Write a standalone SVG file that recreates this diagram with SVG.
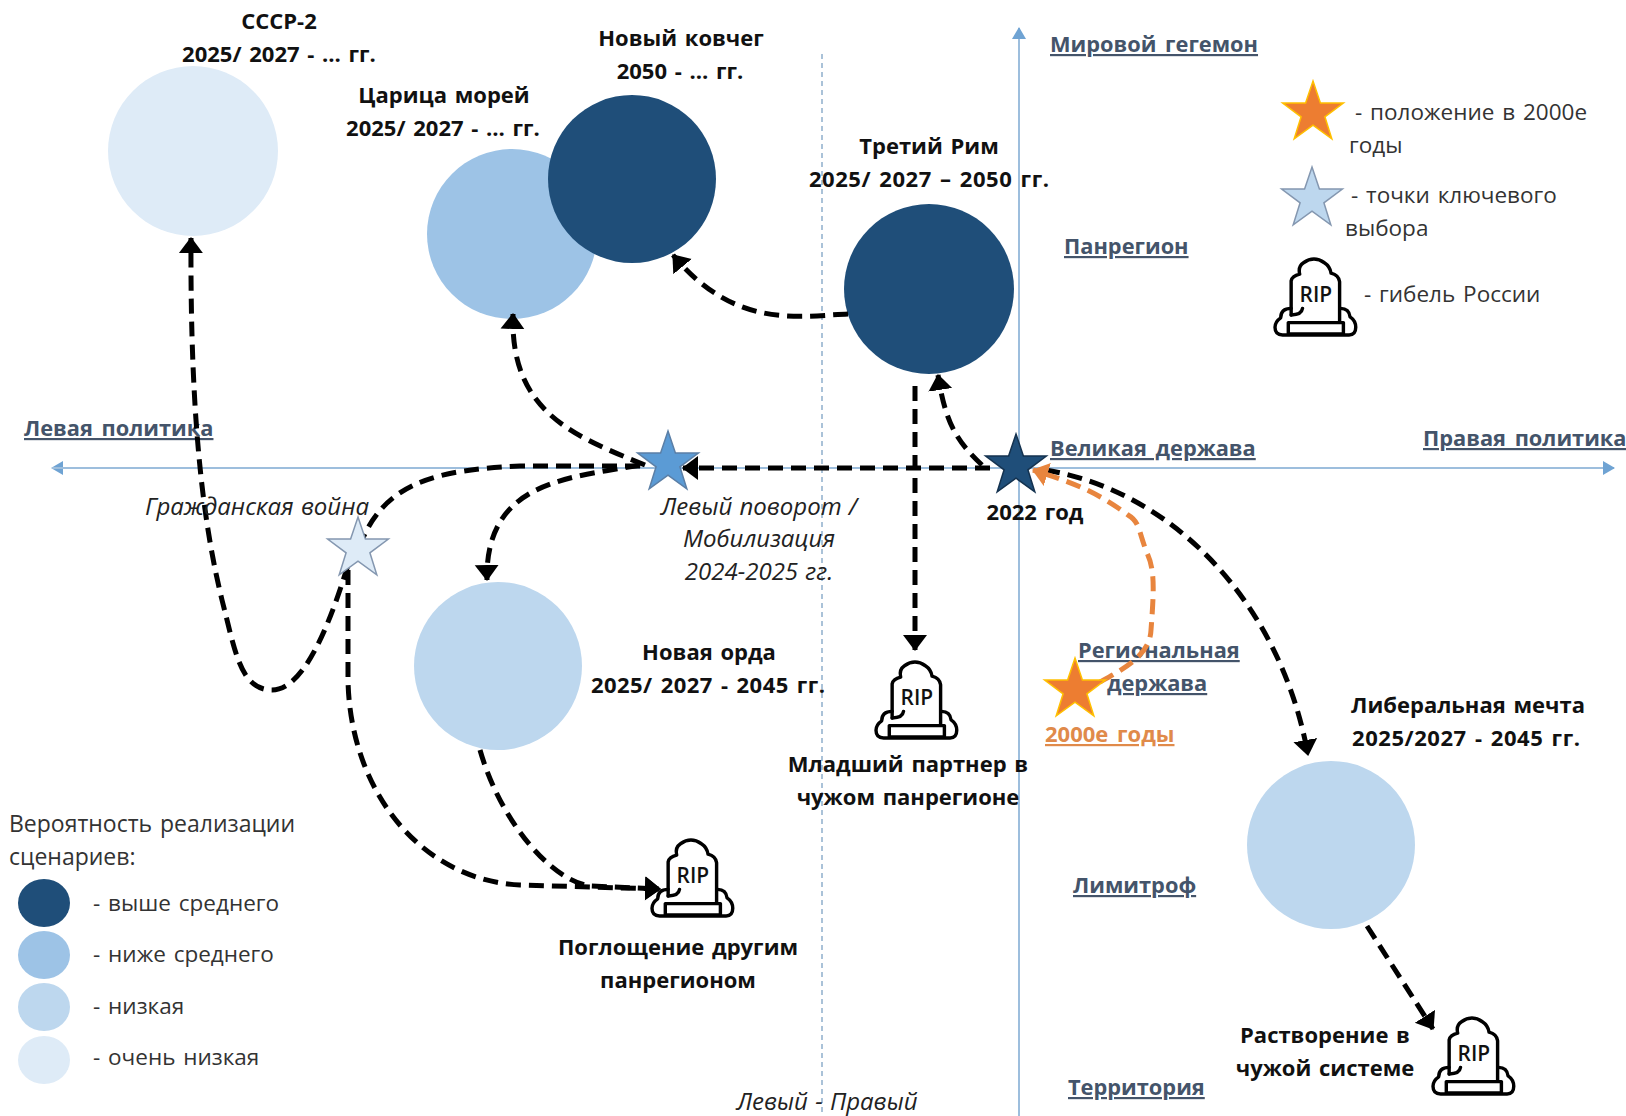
<svg xmlns="http://www.w3.org/2000/svg" width="1626" height="1116" viewBox="0 0 1626 1116">
<style>
text{font-family:"Open Sans","Noto Sans","DejaVu Sans",sans-serif;font-size:22.5px;fill:#333;word-spacing:2px}
.b{font-size:22px;font-weight:700;fill:#111;text-anchor:middle;word-spacing:2px}
.i{font-size:24px;font-style:italic;text-anchor:middle;fill:#222;word-spacing:1px}
.a{font-size:21.8px;font-weight:700;fill:#44546A;text-decoration:underline;word-spacing:3px}
.o{font-size:22px;font-weight:700;fill:#E08A4A;text-decoration:underline;word-spacing:3px}
.rip{font-size:22px;font-weight:600;text-anchor:middle;fill:#111;word-spacing:0}
.c{fill:none;stroke:#000;stroke-width:5;stroke-dasharray:15 8;marker-end:url(#ah)}
.ax{stroke:#9DBEDD;stroke-width:2;fill:none}
.ic{fill:none;stroke:#000;stroke-width:3.6;stroke-linejoin:round;stroke-linecap:round}
</style>
<defs>
<marker id="ah" markerUnits="userSpaceOnUse" markerWidth="18" markerHeight="26" refX="15" refY="13" orient="auto"><path d="M0 1L16 13L0 25Z" fill="#000"/></marker>
<marker id="aho" markerUnits="userSpaceOnUse" markerWidth="18" markerHeight="26" refX="15" refY="13" orient="auto"><path d="M0 1L16 13L0 25Z" fill="#E8853E"/></marker>
<marker id="axs" markerUnits="userSpaceOnUse" markerWidth="12" markerHeight="14" refX="11" refY="7" orient="auto"><path d="M0 0L12 7L0 14Z" fill="#6FA3D3"/></marker>
<polygon id="star" points="0,-32 7.4,-10 30.4,-10 11.9,3.8 18.8,25.9 0,12.2 -18.8,25.9 -11.9,3.8 -30.4,-10 -7.4,-10"/>
<g id="ripi">
<path class="ic" d="M17 60V24Q18 19 26 17Q24 9 30 5Q41 -3 52 5Q58 9 59 16Q67 18 68 25V68M14 68H72V80H14Z"/>
<path class="ic" d="M17 53Q6 53 6 63Q0 67 0 73Q0 81 8 81H78Q85 81 85 73Q85 66 79 62Q78 53 69 53M17 60Q28 60 29 53"/>
<text class="rip" x="43" y="46">RIP</text>
</g>
</defs>
<rect width="1626" height="1116" fill="#fff"/>

<g id="axes">
<path class="ax" d="M1614 468H52" marker-end="url(#axs)"/>
<path class="ax" d="M52 468H1614" marker-end="url(#axs)"/>
<path class="ax" d="M1019 1116V28" marker-end="url(#axs)"/>
<path d="M822 54V1116" fill="none" stroke="#8FAECB" stroke-width="1.5" stroke-dasharray="5 4"/>
</g>

<g id="axis-labels">
<text class="a" x="1050" y="52">Мировой гегемон</text>
<text class="a" x="1064" y="254">Панрегион</text>
<text class="a" x="24" y="436">Левая политика</text>
<text class="a" x="1423" y="446">Правая политика</text>
<text class="a" x="1050" y="456">Великая держава</text>
<text class="a" x="1078" y="658">Региональная</text>
<text class="a" x="1107" y="691">держава</text>
<text class="a" x="1073" y="893">Лимитроф</text>
<text class="a" x="1068" y="1095">Территория</text>
<text class="i" x="827" y="1110">Левый - Правый</text>
</g>

<g id="n-ussr"><circle cx="193" cy="151" r="85" fill="#DEEBF7"/>
<text class="b" x="279" y="29">СССР-2</text><text class="b" x="279" y="62">2025/ 2027 - … гг.</text></g>
<g id="n-tsaritsa"><circle cx="512" cy="234" r="85" fill="#9DC3E6"/>
<text class="b" x="444" y="103">Царица морей</text><text class="b" x="443" y="136">2025/ 2027 - … гг.</text></g>
<g id="n-kovcheg"><circle cx="632" cy="179" r="84" fill="#1F4E79"/>
<text class="b" x="681" y="46">Новый ковчег</text><text class="b" x="680" y="79">2050 - … гг.</text></g>
<g id="n-rim"><circle cx="929" cy="289" r="85" fill="#1F4E79"/>
<text class="b" x="929" y="154">Третий Рим</text><text class="b" x="929" y="187" textLength="240">2025/ 2027 – 2050 гг.</text></g>
<g id="n-orda"><circle cx="498" cy="666" r="84" fill="#BDD7EE"/>
<text class="b" x="709" y="660">Новая орда</text><text class="b" x="708" y="693" textLength="234">2025/ 2027 - 2045 гг.</text></g>
<g id="n-liberal"><circle cx="1331" cy="845" r="84" fill="#BDD7EE"/>
<text class="b" x="1468" y="713">Либеральная мечта</text><text class="b" x="1466" y="746" textLength="228">2025/2027 - 2045 гг.</text></g>

<g id="connectors">
<path class="c" d="M848 314C800 316 735 330 673 255"/>
<path class="c" d="M982 465C955 440 945 420 938 375"/>
<path class="c" d="M990 468H683"/>
<path class="c" d="M645 465C570 435 510 410 513 314"/>
<path style="fill:none;stroke:#000;stroke-width:5;stroke-dasharray:15 8" d="M640 466H520C440 470 385 480 360 545"/>
<path class="c" d="M640 465C570 478 485 480 487 580"/>
<path class="c" d="M348 565C325 640 300 690 272 690C240 690 235 650 222 600C205 530 190 430 191 238"/>
<path class="c" d="M348 570V680C350 790 420 880 520 885L660 889"/>
<path class="c" d="M480 750C500 820 550 880 590 886L660 889"/>
<path class="c" d="M1045 470C1170 490 1280 600 1308 755"/>
<path class="c" d="M915 386V650"/>
<path class="c" d="M1367 926L1433 1029"/>
<path style="fill:none;stroke:#E8853E;stroke-width:5;stroke-dasharray:15 8;marker-end:url(#aho)" d="M1100 682C1125 668 1150 655 1151 630C1154 590 1155 570 1147 553C1138 530 1140 522 1128 515C1095 490 1065 480 1033 470"/>
</g>

<g id="s-blue"><use href="#star" transform="translate(668 463)" fill="#5B9BD5" stroke="#5B7FA6" stroke-width="1.5"/>
<text class="i" x="759" y="515">Левый поворот /</text><text class="i" x="759" y="547">Мобилизация</text><text class="i" x="759" y="580">2024-2025 гг.</text></g>
<g id="s-2022"><use href="#star" transform="translate(1016 466)" fill="#1F4E79" stroke="#14324F" stroke-width="1.5"/>
<text class="b" x="1035" y="520">2022 год</text></g>
<g id="s-civil"><use href="#star" transform="translate(358 549)" fill="#DEEBF7" stroke="#8497B0" stroke-width="1.5"/>
<text class="i" x="257" y="515">Гражданская война</text></g>
<g id="s-2000"><use href="#star" transform="translate(1075 690)" fill="#ED7D31" stroke="#FFC000" stroke-width="1.5"/>
<text class="o" x="1045" y="742">2000е годы</text></g>

<g id="r-partner"><use href="#ripi" transform="translate(876 661) scale(.95)"/>
<text class="b" x="908" y="772">Младший партнер в</text><text class="b" x="908" y="805">чужом панрегионе</text></g>
<g id="r-absorb"><use href="#ripi" transform="translate(652 839) scale(.95)"/>
<text class="b" x="678" y="955">Поглощение другим</text><text class="b" x="678" y="988">панрегионом</text></g>
<g id="r-dissolve"><use href="#ripi" transform="translate(1433 1017) scale(.95)"/>
<text class="b" x="1325" y="1043">Растворение в</text><text class="b" x="1325" y="1076">чужой системе</text></g>

<g id="legend-top">
<use href="#star" transform="translate(1313 113)" fill="#ED7D31" stroke="#FFC000" stroke-width="1.5"/>
<text x="1355" y="120">- положение в 2000е</text><text x="1349" y="153">годы</text>
<use href="#star" transform="translate(1312 199)" fill="#BDD7EE" stroke="#8497B0" stroke-width="1.5"/>
<text x="1351" y="203">- точки ключевого</text><text x="1345" y="236">выбора</text>
<use href="#ripi" transform="translate(1275 258) scale(.95)"/>
<text x="1364" y="302">- гибель России</text>
</g>

<g id="legend-prob">
<text x="9" y="832" style="font-size:23px">Вероятность реализации</text><text x="9" y="865" style="font-size:23px">сценариев:</text>
<ellipse cx="44" cy="903" rx="26" ry="24" fill="#1F4E79"/><text x="93" y="911">- выше среднего</text>
<ellipse cx="44" cy="955" rx="26" ry="24" fill="#9DC3E6"/><text x="93" y="962">- ниже среднего</text>
<ellipse cx="44" cy="1007" rx="26" ry="24" fill="#BDD7EE"/><text x="93" y="1014">- низкая</text>
<ellipse cx="44" cy="1060" rx="26" ry="24" fill="#DEEBF7"/><text x="93" y="1065">- очень низкая</text>
</g>
</svg>
